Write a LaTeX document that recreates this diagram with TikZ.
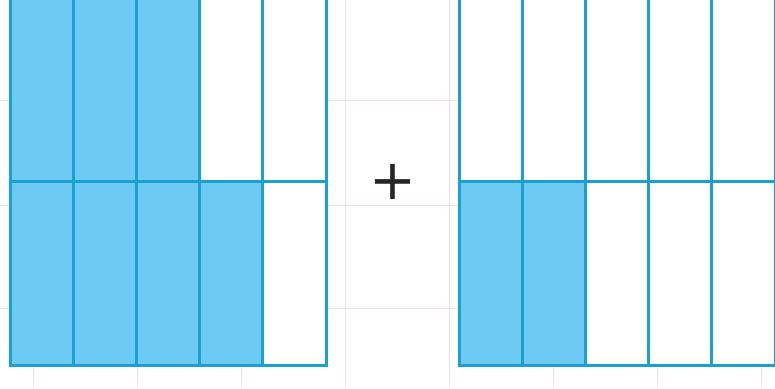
\documentclass[tikz,border=0pt]{standalone}
\usepackage{fontspec}
\newfontfamily\plusfont{DejaVu Sans}
\definecolor{shade}{HTML}{6DCBF3}
\definecolor{gridline}{HTML}{1CA0D2}
\definecolor{bgline}{HTML}{F3DDE1}
\begin{document}
\begin{tikzpicture}[x=1pt,y=-1pt,
  cellon/.style={fill=shade, draw=gridline, line width=3pt},
  celloff/.style={fill=white, draw=gridline, line width=3pt},
  bggrid/.style={draw=bgline, line width=1pt}]
\useasboundingbox (0,0) rectangle (775,388);
\clip (0,0) rectangle (775,388);
\fill[white] (0,0) rectangle (775,388);
% faint background grid
\foreach \x in {33,137,241,345,449,553,657,761}
  \draw[bggrid] (\x,0) -- (\x,388);
\foreach \y in {100,205,308}
  \draw[bggrid] (0,\y) -- (775,\y);
% left bar: top row 3 of 5 shaded, bottom row 4 of 5 shaded
\foreach \i in {0,...,4}{
  \pgfmathsetmacro{\xa}{10+63.2*\i}
  \pgfmathsetmacro{\xb}{10+63.2*(\i+1)}
  \ifnum\i<3
    \draw[cellon] (\xa,-3) rectangle (\xb,181);
  \else
    \draw[celloff] (\xa,-3) rectangle (\xb,181);
  \fi
  \ifnum\i<4
    \draw[cellon] (\xa,181) rectangle (\xb,365);
  \else
    \draw[celloff] (\xa,181) rectangle (\xb,365);
  \fi
}
% right bar: top row none shaded, bottom row 2 of 5 shaded
\foreach \i in {0,...,4}{
  \pgfmathsetmacro{\xa}{459+63.2*\i}
  \pgfmathsetmacro{\xb}{459+63.2*(\i+1)}
  \draw[celloff] (\xa,-3) rectangle (\xb,181);
  \ifnum\i<2
    \draw[cellon] (\xa,181) rectangle (\xb,365);
  \else
    \draw[celloff] (\xa,181) rectangle (\xb,365);
  \fi
}
\node[inner sep=0pt, text=black!85] (plus) at (393,182) {\plusfont\fontsize{56}{56}\selectfont +};
\end{tikzpicture}
\end{document}
